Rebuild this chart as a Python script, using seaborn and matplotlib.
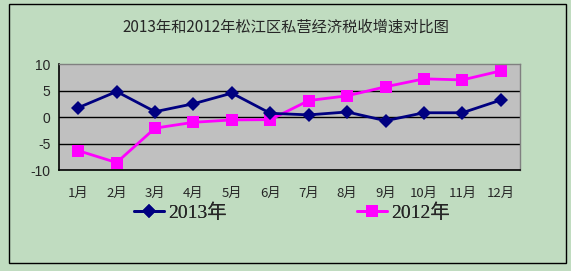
import matplotlib
matplotlib.use("Agg")
import matplotlib.pyplot as plt
import seaborn as sns
import pandas as pd
from matplotlib.patches import Rectangle
from matplotlib.lines import Line2D

months = ["1月", "2月", "3月", "4月", "5月", "6月", "7月", "8月", "9月", "10月", "11月", "12月"]
growth_2013 = [1.75, 4.8, 1.0, 2.5, 4.5, 0.7, 0.4, 0.95, -0.7, 0.8, 0.8, 3.2]
growth_2012 = [-6.35, -8.6, -2.1, -1.0, -0.55, -0.5, 3.1, 4.0, 5.7, 7.2, 7.0, 8.7]
series_names = ["2013年", "2012年"]
yticks = [-10, -5, 0, 5, 10]
title = "2013年和2012年松江区私营经济税收增速对比图"

sns.set_style("white")
plt.rcParams['font.family'] = ['Noto Sans CJK SC', 'DejaVu Sans']

BG = "#C0DCC0"
fig = plt.figure(figsize=(5.71, 2.71), dpi=100, facecolor=BG)
ax = fig.add_axes([59/571, 1-170/271, (520-59)/571, (170-64)/271])
ax.set_facecolor("#C0C0C0")

df = pd.DataFrame({
    "x": list(range(len(months))) * 2,
    "v": growth_2013 + growth_2012,
    "s": [series_names[0]] * len(months) + [series_names[1]] * len(months),
})

for y in [-5, 0, 5]:
    ax.axhline(y, color="black", lw=1, zorder=1)

sns.lineplot(data=df[df.s == series_names[0]], x="x", y="v", color="#000080",
             marker="D", markersize=7, markeredgewidth=0, lw=2, ax=ax, zorder=3)
sns.lineplot(data=df[df.s == series_names[1]], x="x", y="v", color="#FF00FF",
             marker="s", markersize=9, markeredgewidth=0, lw=2, ax=ax, zorder=2)

ax.set_xlim(-0.5, len(months) - 0.5)
ax.set_ylim(-10, 10)
ax.set_yticks(yticks)
ax.set_yticklabels([str(t) for t in yticks], family=['Liberation Sans'], fontsize=10)
ax.set_xticks(range(len(months)))
ax.set_xticklabels(months, fontsize=9.5)
ax.set_xticks([i - 0.5 for i in range(1, len(months))], minor=True)
ax.tick_params(axis='x', which='major', length=0, pad=12)
ax.tick_params(axis='x', which='minor', length=4, direction='in', color='black', width=1)
ax.tick_params(axis='y', which='major', length=4, direction='out', color='black', width=1, pad=2)
ax.set_xlabel("")
ax.set_ylabel("")
for side in ["top", "right"]:
    ax.spines[side].set_color("#808080")
    ax.spines[side].set_linewidth(1)
for side in ["left", "bottom"]:
    ax.spines[side].set_color("black")
    ax.spines[side].set_linewidth(1.2)

fig.text(0.5, 1-27/271, title, ha="center", va="center", fontsize=11)

handles = [
    Line2D([], [], color="#000080", marker="D", markersize=7, markeredgewidth=0, lw=2),
    Line2D([], [], color="#FF00FF", marker="s", markersize=9, markeredgewidth=0, lw=2),
]
prop = {'family': ['Liberation Serif', 'Noto Sans CJK SC'], 'size': 14}
for h, name, x0 in zip(handles, series_names, [134, 357]):
    lg = fig.legend([h], [name], loc="center left", bbox_to_anchor=(x0/571, 1-213/271),
                    frameon=False, prop=prop, handlelength=1.55, handletextpad=0.2,
                    borderpad=0, borderaxespad=0)
    fig.add_artist(lg)

fig.patches.append(Rectangle((9/571, 1-263/271), (566-9)/571, (263-4)/271,
                             transform=fig.transFigure, fill=False, edgecolor="black", lw=1))

fig.savefig("out.png", dpi=100, facecolor=BG)
